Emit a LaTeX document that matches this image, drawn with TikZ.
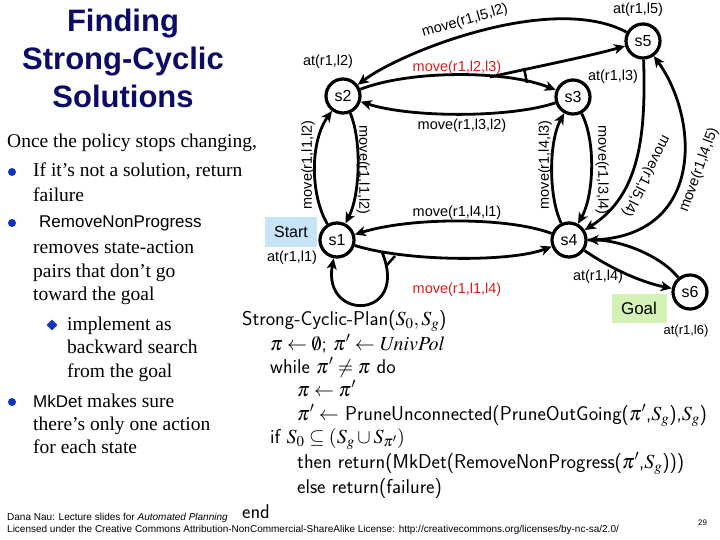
\documentclass[tikz,border=0pt]{standalone}
\usepackage{mathptmx}
\usepackage{fontspec}
\setmainfont{Liberation Serif}
\newfontfamily\arialf{Liberation Sans}
\usetikzlibrary{arrows.meta,shapes.geometric}
\definecolor{navy}{RGB}{12,12,100}
\definecolor{bulblue}{RGB}{20,50,190}
\definecolor{labred}{RGB}{215,30,30}
\definecolor{startbg}{RGB}{200,228,248}
\definecolor{goalbg}{RGB}{212,242,182}
\begin{document}
\begin{tikzpicture}[x=1pt,y=-1pt,
  st/.style={circle,draw,line width=3.2pt,minimum size=34pt,inner sep=0pt,font=\arialf\fontsize{16}{16}\selectfont},
  lab/.style={font=\arialf\fontsize{14.5}{15}\selectfont,inner sep=0pt},
  redlab/.style={lab,text=labred},
  edge/.style={line width=2.8pt,-{Stealth[length=11pt,width=10pt,inset=3pt]}},
  tick/.style={line width=2.5pt},
  alg/.style={font=\sffamily\fontsize{20}{24}\selectfont,anchor=base west,inner sep=0pt},
  body/.style={font=\fontsize{19.5}{24}\selectfont,anchor=base west,inner sep=0pt},
  bul/.style={circle,fill=bulblue,inner sep=0pt,minimum size=8pt},
  dia/.style={diamond,fill=bulblue,inner sep=0pt,minimum size=11pt},
  foot/.style={font=\arialf\fontsize{10}{12}\selectfont,anchor=base west,inner sep=0pt}]
\useasboundingbox (0,0) rectangle (720,540);

% title
\node[font=\arialf\bfseries\fontsize{31}{38}\selectfont,text=navy,align=center,inner sep=0pt] (title) at (123,58) {Finding\\Strong-Cyclic\\Solutions};

% left text
\node[body] (t0) at (7,148) {Once the policy stops changing,};
\node[bul] (b1) at (12,172) {};
\node[body] (t1) at (33,177) {If it’s not a solution, return};
\node[body] (t2) at (33,202) {failure};
\node[bul] (b2) at (12,223) {};
\node[body,font=\arialf\fontsize{17}{24}\selectfont] (t3) at (39,228) {RemoveNonProgress};
\node[body] (t4) at (33,253) {removes state-action};
\node[body] (t5) at (33,277) {pairs that don’t go};
\node[body] (t6) at (33,300) {toward the goal};
\node[dia] (d1) at (52,325) {};
\node[body] (t7) at (67,330) {implement as};
\node[body] (t8) at (67,353) {backward search};
\node[body] (t9) at (67,377) {from the goal};
\node[bul] (b3) at (12,402) {};
\node[body] (t10) at (33,407) {{\arialf\fontsize{17}{24}\selectfont MkDet} makes sure};
\node[body] (t11) at (33,430) {there’s only one action};
\node[body] (t12) at (33,453) {for each state};

% states
\node[st] (s2) at (343,96) {s2};
\node[st] (s3) at (573,97) {s3};
\node[st] (s5) at (643,41) {s5};
\node[st] (s1) at (337,240) {s1};
\node[st] (s4) at (569,240) {s4};
\node[st] (s6) at (690,292) {s6};

\node[fill=startbg,minimum width=52pt,minimum height=29pt,inner sep=0pt,font=\arialf\fontsize{16}{16}\selectfont] (start) at (291,232) {Start};
\node[fill=goalbg,minimum width=55pt,minimum height=29pt,inner sep=0pt,font=\arialf\fontsize{17}{17}\selectfont] (goal) at (639,308) {Goal};

% edges
\coordinate (br1) at (490,77);
\coordinate (br2) at (382,252);
\draw[edge] (s5) .. controls (552,-8) and (401,52) .. (s2);
\draw[edge] (s2) .. controls (410,70) and (506,70) .. (s3);
\draw[edge] (br1) .. controls (540,66) and (590,56) .. (s5);
\draw[tick] (524,68) -- (527,83);
\draw[edge] (s3) .. controls (510,118) and (411,118) .. (s2);
\draw[edge] (s1) .. controls (310,195) and (310,141) .. (s2);
\draw[edge] (s2) .. controls (362,141) and (360,195) .. (s1);
\draw[edge] (s4) .. controls (548,195) and (549,141) .. (s3);
\draw[edge] (s3) .. controls (596,141) and (594,195) .. (s4);
\draw[edge] (s5) .. controls (646,135) and (640,195) .. (s4);
\draw[edge] (s4) .. controls (705,240) and (700,120) .. (s5);
\draw[edge] (s4) .. controls (508,217) and (411,217) .. (s1);
\draw[edge] (s1) .. controls (408,262) and (511,262) .. (s4);
\draw[edge] (br2) .. controls (410,320) and (322,322) .. (s1);
\draw[tick] (387,265) -- (395,256);
\draw[edge] (s4) .. controls (610,268) and (640,282) .. (s6);
\draw[edge] (s6) .. controls (660,255) and (620,240) .. (s4);

% labels
\node[lab,rotate=16] (l52) at (465,21) {move(r1,l5,l2)};
\node[redlab] (l23) at (457,68) {move(r1,l2,l3)};
\node[lab] (l32) at (462,126) {move(r1,l3,l2)};
\node[lab] (a5) at (638,10) {at(r1,l5)};
\node[lab] (a2) at (328,62) {at(r1,l2)};
\node[lab] (a3) at (613,77) {at(r1,l3)};
\node[lab,rotate=90] (l12a) at (308,165) {move(r1,l1,l2)};
\node[lab,rotate=-90] (l12b) at (363,170) {move(r1,l1,l2)};
\node[lab,rotate=90] (l43) at (545,165) {move(r1,l4,l3)};
\node[lab,rotate=-90] (l34) at (602,170) {move(r1,l3,l4)};
\node[lab,rotate=-117] (l54) at (646,176) {move(r1,l5,l4)};
\node[lab,rotate=70] (l45) at (699,170) {move(r1,l4,l5)};
\node[lab] (l41) at (457,213) {move(r1,l4,l1)};
\node[redlab] (l14) at (457,290) {move(r1,l1,l4)};
\node[lab] (a1) at (292,258) {at(r1,l1)};
\node[lab] (a4) at (598,277) {at(r1,l4)};
\node[lab,font=\arialf\fontsize{13}{13}\selectfont] (a6) at (686,331) {at(r1,l6)};

% algorithm
\node[alg] (p0) at (242,325) {Strong-Cyclic-Plan($S_0,S_g$)};
\node[alg] (p1) at (270,350) {$\pi\leftarrow\emptyset$; $\pi'\leftarrow \mathit{UnivPol}$};
\node[alg] (p2) at (270,373) {while $\pi'\neq\pi$ do};
\node[alg] (p3) at (297,396) {$\pi\leftarrow\pi'$};
\node[alg] (p4) at (297,420) {$\pi'\leftarrow$ PruneUnconnected(PruneOutGoing($\pi'$,$S_g$),$S_g$)};
\node[alg] (p5) at (270,443) {if $S_0\subseteq(S_g\cup S_{\pi'})$};
\node[alg] (p6) at (297,468) {then return(MkDet(RemoveNonProgress($\pi'$,$S_g$)))};
\node[alg] (p7) at (297,493) {else return(failure)};
\node[alg] (p8) at (242,518) {end};

% footer
\node[foot] (f1) at (7,520) {Dana Nau: Lecture slides for \textit{Automated Planning}};
\node[foot] (f2) at (7,532) {Licensed under the Creative Commons Attribution-NonCommercial-ShareAlike License: http://creativecommons.org/licenses/by-nc-sa/2.0/};
\node[foot,font=\arialf\fontsize{8}{10}\selectfont] (pg) at (698,525) {29};
\end{tikzpicture}
\end{document}
